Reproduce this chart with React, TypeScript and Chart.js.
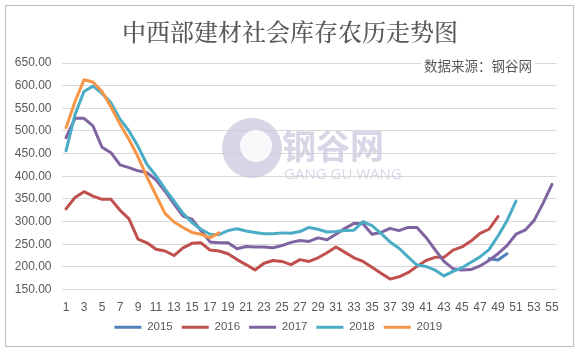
import React, { useEffect, useRef } from 'react';
import { Chart, registerables } from 'chart.js';

Chart.register(...registerables);

const titleText = '中西部建材社会库存农历走势图';
const sourceText = '数据来源：钢谷网';

const weeks = [
  '1', '2', '3', '4', '5', '6', '7', '8', '9', '10', '11', '12', '13', '14', '15', '16', '17', '18', '19', '20',
  '21', '22', '23', '24', '25', '26', '27', '28', '29', '30', '31', '32', '33', '34', '35', '36', '37', '38', '39', '40',
  '41', '42', '43', '44', '45', '46', '47', '48', '49', '50', '51', '52', '53', '54', '55',
];

const seriesNames = ['2015', '2016', '2017', '2018', '2019'];
const seriesColors = ['#4F81BD', '#C0504D', '#8064A2', '#4BACC6', '#F79646'];

const weeks2015 = ['48', '49', '50'];
const values2015 = [218, 215, 229];

const values2016 = [
  328, 353, 366, 356, 349, 349, 325, 306, 261, 253, 239, 235, 225, 242, 252, 253, 237, 235, 229, 216,
  205, 193, 208, 214, 212, 205, 216, 212, 220, 231, 244, 232, 220, 212, 199, 186, 173, 178, 187, 201,
  214, 221, 221, 237, 244, 257, 274, 283, 311,
];

const values2017 = [
  485, 528, 528, 511, 464, 452, 425, 419, 412, 408, 392, 367, 339, 312, 305, 280, 255, 253, 253, 240,
  245, 244, 244, 242, 247, 254, 258, 256, 264, 260, 272, 285, 296, 295, 272, 276, 285, 280, 287, 287,
  265, 238, 212, 196, 193, 194, 202, 214, 229, 247, 272, 281, 302, 340, 382,
];

const values2018 = [
  456, 536, 587, 599, 583, 562, 526, 500, 466, 426, 401, 372, 345, 318, 298, 283, 272, 271, 280, 284,
  279, 276, 273, 273, 275, 274, 278, 287, 283, 277, 278, 280, 281, 300, 291, 274, 255, 241, 222, 204,
  201, 193, 180, 190, 198, 210, 222, 238, 268, 302, 345,
];

const values2019 = [507, 565, 613, 608, 587, 553, 515, 481, 443, 398, 358, 318, 299, 287, 276, 272, 264, 275];

const yMin = 150;
const yMax = 650;
const yStep = 50;

const FONT = "'Liberation Sans', Arial, sans-serif";
const TEXT = '#595959';

const decorPlugin = {
  id: 'decor',
  beforeDraw(chart: any) {
    const { ctx, width, height } = chart;
    ctx.save();
    ctx.fillStyle = '#ffffff';
    ctx.fillRect(0, 0, width, height);
    ctx.strokeStyle = '#BFBFBF';
    ctx.lineWidth = 1;
    ctx.strokeRect(5.5, 5.5, width - 11, height - 11);
    ctx.restore();
  },
  beforeDatasetsDraw(chart: any) {
    const { ctx } = chart;
    ctx.save();
    // watermark
    ctx.fillStyle = 'rgba(200,200,222,0.75)';
    ctx.beginPath();
    ctx.arc(252, 148, 30, 0, Math.PI * 2);
    ctx.fill();
    ctx.fillStyle = 'rgba(255,255,255,0.85)';
    ctx.beginPath();
    ctx.arc(256, 146, 16, 0, Math.PI * 2);
    ctx.fill();
    ctx.fillStyle = 'rgba(200,200,222,0.75)';
    ctx.font = "bold 34px 'Noto Sans CJK SC'";
    ctx.textAlign = 'left';
    ctx.textBaseline = 'middle';
    ctx.fillText('钢谷网', 282, 146);
    ctx.font = "15px 'Open Sans', sans-serif";
    ctx.fillText('GANG GU WANG', 284, 175);
    ctx.restore();
  },
  afterDraw(chart: any) {
    const { ctx } = chart;
    ctx.save();
    ctx.fillStyle = TEXT;
    ctx.textAlign = 'center';
    ctx.textBaseline = 'middle';
    ctx.font = "500 24px 'Noto Serif CJK SC', 'Noto Sans CJK SC'";
    ctx.fillText(titleText, 290, 32);
    ctx.font = "13.5px 'Noto Sans CJK SC'";
    ctx.textAlign = 'right';
    const w = ctx.measureText(sourceText).width;
    ctx.fillStyle = '#ffffff';
    ctx.fillRect(532 - w - 3, 58, w + 6, 16);
    ctx.fillStyle = TEXT;
    ctx.fillText(sourceText, 532, 66);
    ctx.restore();
  },
};

export default function App() {
  const ref = useRef<HTMLCanvasElement | null>(null);

  useEffect(() => {
    document.body.style.margin = '0';
    const canvas = ref.current;
    if (!canvas) return;

    const full = [values2016, values2017, values2018, values2019];
    const datasets: any[] = [
      {
        label: seriesNames[0],
        data: weeks2015.map((w, i) => ({ x: w, y: values2015[i] })),
        borderColor: seriesColors[0],
        backgroundColor: seriesColors[0],
        order: 5,
      },
      ...full.map((vals, k) => ({
        label: seriesNames[k + 1],
        data: vals,
        borderColor: seriesColors[k + 1],
        backgroundColor: seriesColors[k + 1],
        order: 4 - k,
      })),
    ];

    const chart = new Chart(canvas, {
      type: 'line',
      data: { labels: weeks, datasets },
      plugins: [decorPlugin],
      options: {
        animation: false,
        responsive: false,
        maintainAspectRatio: false,
        layout: { padding: { top: 63, right: 22.5, bottom: 9, left: 0 } },
        elements: {
          point: { radius: 0, hoverRadius: 0, borderWidth: 3 },
          line: { borderWidth: 3, tension: 0, borderJoinStyle: 'round', borderCapStyle: 'round' },
        },
        scales: {
          x: {
            type: 'category',
            offset: true,
            grid: { display: false, drawTicks: false },
            border: { display: false },
            ticks: {
              autoSkip: false,
              maxRotation: 0,
              padding: 11,
              color: TEXT,
              font: { family: FONT, size: 12 },
              callback: (_v: any, i: number) => (i % 2 === 0 ? weeks[i] : ''),
            },
            afterFit: (s: any) => {
              s.height = 23;
            },
          },
          y: {
            min: yMin,
            max: yMax,
            ticks: {
              stepSize: yStep,
              padding: 10,
              color: TEXT,
              font: { family: FONT, size: 12 },
              callback: (v: any) => Number(v).toFixed(2),
            },
            grid: { color: '#D9D9D9', drawTicks: false },
            border: { display: false },
            afterFit: (s: any) => {
              s.width = 61.5;
            },
          },
        },
        plugins: {
          legend: {
            position: 'bottom',
            labels: {
              usePointStyle: true,
              pointStyle: 'line',
              pointStyleWidth: 27,
              padding: 9,
              color: TEXT,
              font: { family: FONT, size: 11.5 },
              sort: (a: any, b: any) => a.datasetIndex - b.datasetIndex,
            },
          },
          title: { display: false },
          tooltip: { enabled: false },
        },
      } as any,
    });

    return () => chart.destroy();
  }, []);

  return (
    <div style={{ position: 'absolute', left: 0, top: 0, width: 579, height: 352 }}>
      <canvas ref={ref} width={579} height={352} style={{ width: 579, height: 352, display: 'block' }} />
    </div>
  );
}
